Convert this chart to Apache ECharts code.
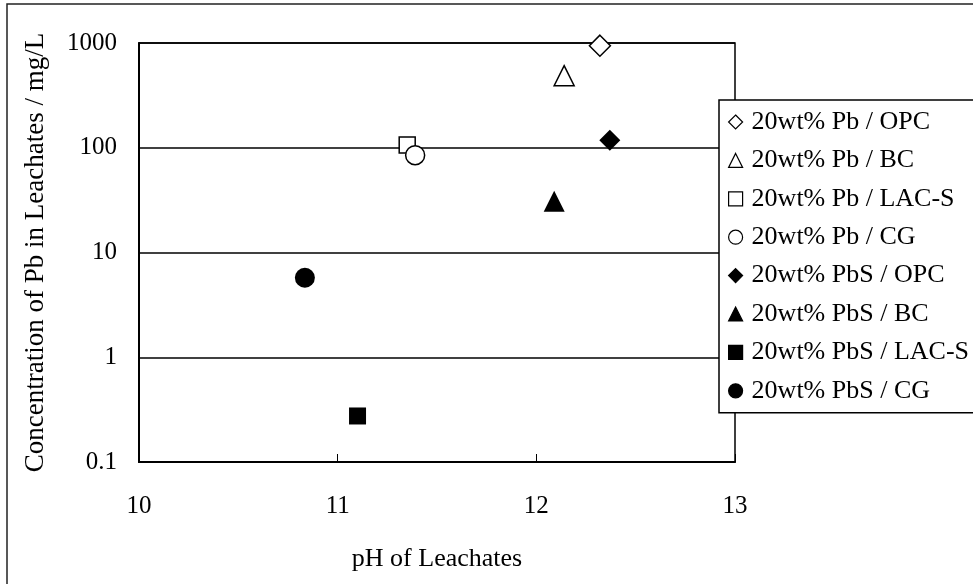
<!DOCTYPE html>
<html>
<head>
<meta charset="utf-8">
<script src="https://cdn.jsdelivr.net/npm/echarts@6/dist/echarts.min.js"></script>
<style>
  html, body { margin: 0; padding: 0; background: #fff; }
  #chart { width: 973px; height: 584px; }
</style>
</head>
<body>
<div id="chart"></div>
<script>
// series names (legend order)
const seriesNames = [
  "20wt% Pb / OPC",
  "20wt% Pb / BC",
  "20wt% Pb / LAC-S",
  "20wt% Pb / CG",
  "20wt% PbS / OPC",
  "20wt% PbS / BC",
  "20wt% PbS / LAC-S",
  "20wt% PbS / CG",
];
// pH of leachates, one point per series
const phValues = [12.32, 12.14, 11.35, 11.39, 12.37, 12.09, 11.10, 10.835];
// Pb concentration (mg/L)
const pbValues = [943, 488, 106, 85, 118, 30.8, 0.275, 5.74];
const symbols = ["diamond", "triangle", "rect", "circle", "diamond", "triangle", "rect", "circle"];
const symbolSizes = [21, 20, 16, 19, 21, 21, 17, 20];
const filled = [false, false, false, false, true, true, true, true];

const FONT = "'Liberation Serif', 'DejaVu Serif', serif";

const chart = echarts.init(document.getElementById("chart"));

const series = seriesNames.map((name, i) => ({
  name,
  type: "scatter",
  symbol: symbols[i],
  symbolSize: symbolSizes[i],
  data: [[phValues[i], pbValues[i]]],
  itemStyle: filled[i]
    ? { color: "#000", borderColor: "#000", borderWidth: 0, opacity: 1 }
    : { color: "#fff", borderColor: "#000", borderWidth: 1.5, opacity: 1 },
  z: 3,
}));

chart.setOption({
  animation: false,
  backgroundColor: "#fff",
  textStyle: { fontFamily: FONT, color: "#000" },
  graphic: [
    {
      type: "rect",
      shape: { x: 7, y: 4, width: 1000, height: 620 },
      style: { fill: "none", stroke: "#222", lineWidth: 1.5 },
      z: 0,
    },
  ],
  grid: {
    left: 139,
    right: 238,
    top: 43,
    bottom: 122,
    show: true,
    borderColor: "#000",
    borderWidth: 1.5,
    backgroundColor: "transparent",
  },
  legend: {
    orient: "vertical",
    left: 719,
    top: 100,
    padding: [9, 30, 9, 9],
    itemGap: 12.4,
    itemWidth: 14,
    itemHeight: 14,
    itemStyle: { borderWidth: 1.2 },
    backgroundColor: "#fff",
    borderColor: "#000",
    borderWidth: 1.5,
    borderRadius: 0,
    textStyle: {
      fontFamily: FONT,
      fontSize: 26,
      color: "#000",
      lineHeight: 26,
      padding: [0, 0, 0, 4],
    },
    data: seriesNames,
    z: 10,
  },
  xAxis: {
    type: "value",
    min: 10,
    max: 13,
    interval: 1,
    name: "pH of Leachates",
    nameLocation: "middle",
    nameGap: 84,
    nameTextStyle: { fontFamily: FONT, fontSize: 26, color: "#000" },
    axisLine: { lineStyle: { color: "#000", width: 2 } },
    axisTick: { show: true, inside: true, length: 8, lineStyle: { color: "#000", width: 1 } },
    axisLabel: { fontFamily: FONT, fontSize: 25, color: "#000", margin: 32 },
    splitLine: { show: false },
  },
  yAxis: {
    type: "log",
    logBase: 10,
    min: 0.1,
    max: 1000,
    name: "Concentration of Pb in Leachates / mg/L",
    nameLocation: "middle",
    nameGap: 90,
    nameTextStyle: { fontFamily: FONT, fontSize: 27, color: "#000" },
    axisLine: { show: true, lineStyle: { color: "#000", width: 2 } },
    axisTick: { show: false },
    axisLabel: {
      fontFamily: FONT,
      fontSize: 25,
      color: "#000",
      margin: 22,
      formatter: (v) => String(Number(Number(v).toPrecision(3))),
    },
    splitLine: { show: true, lineStyle: { color: "#000", width: 1.5 } },
  },
  series,
});
</script>
</body>
</html>
